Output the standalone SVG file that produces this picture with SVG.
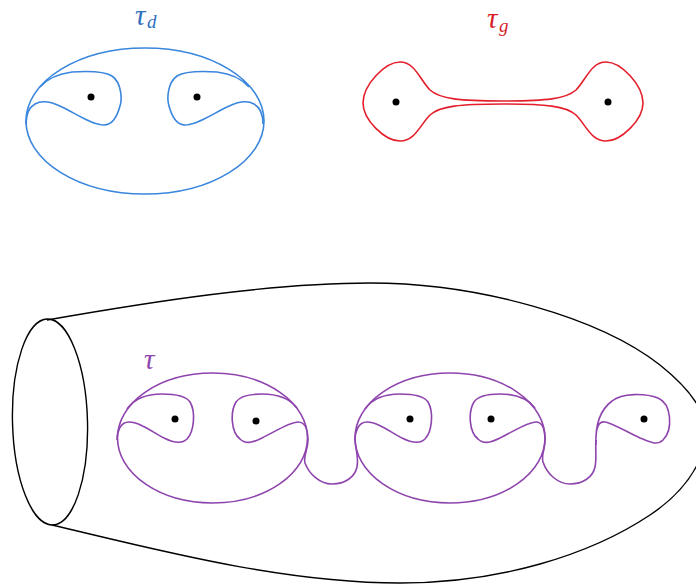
<svg xmlns="http://www.w3.org/2000/svg" width="696" height="586" viewBox="0 0 696 586">
<style>
.b{fill:none;stroke:#3a86dd;stroke-width:1.6}
.r{fill:none;stroke:#e41f2b;stroke-width:1.6}
.p{fill:none;stroke:#8e44ad;stroke-width:1.6}
.k{fill:none;stroke:#000;stroke-width:1.4}
.dot{fill:#000}
.lbl{font-family:"Liberation Serif","DejaVu Serif",serif;font-style:italic}
</style>
<rect width="696" height="586" fill="#fff"/>
<g id="tau_d">
<ellipse class="b" cx="145" cy="121" rx="119" ry="73"/>
<path class="b" d="M 40,87 C 47,79 56,74 72,72 C 88,71 104,71 112,76 C 122,83 122,100 120,106 C 117,117 112,125 104,125 C 92,125 75,113 62,107 C 52,102 42,100 35,104 C 28,108 26,116 26,124"/>
<path class="b" d="M 249,87 C 242,79 233,74 217,72 C 201,71 185,71 177,76 C 167,83 167,100 169,106 C 172,117 177,125 185,125 C 197,125 214,113 227,107 C 237,102 247,100 254,104 C 261,108 263,116 263,124"/>
<circle class="dot" cx="91" cy="97" r="3.5"/>
<circle class="dot" cx="197" cy="97" r="3.5"/>
<text class="lbl" x="135" y="25" font-size="29" fill="#2f6fbe">τ</text>
<text class="lbl" x="147" y="28" font-size="19" fill="#2f6fbe">d</text>
</g>
<g id="tau_g">
<path class="r" d="M 503,101 C 460,101 440,99 430,90 C 420,80 415,62 400,62 C 385,62 363,85 363,103 C 363,120 385,141 400,141 C 415,141 420,125 430,115 C 440,106 460,104 503,104 C 546,104 566,106 576,115 C 586,125 591,141 606,141 C 621,141 643,120 643,103 C 643,85 621,62 606,62 C 591,62 586,80 576,90 C 566,99 546,101 503,101 Z"/>
<circle class="dot" cx="396" cy="102" r="3.5"/>
<circle class="dot" cx="608" cy="102" r="3.5"/>
<text class="lbl" x="487" y="28" font-size="29" fill="#d61e2a">τ</text>
<text class="lbl" x="499" y="32" font-size="19" fill="#d61e2a">g</text>
</g>
<g id="surface">
<ellipse class="k" cx="50" cy="422" rx="37.5" ry="103" transform="rotate(-1.5 50 422)"/>
<path class="k" d="M 47,320 C 150,302 270,283 370,283 C 480,283 600,318 660,365 C 695,393 712,420 705,445 C 698,470 680,495 650,515 C 590,555 500,583 400,583 C 280,583 150,548 52,525"/>
</g>
<g id="tau">
<ellipse class="p" cx="212.5" cy="438" rx="95" ry="65"/>
<ellipse class="p" cx="450" cy="438" rx="95" ry="65"/>
<path class="p" d="M 127,409 C 134,399 146,394 162,394 C 176,394 186,396 190,402 C 196,412 194,432 187,439 C 181,445 172,442 164,438 C 151,431 139,422 129,422 C 120,422 117,432 117,440"/>
<path class="p" d="M 297,408 C 290,399 278,394 262,394 C 250,394 240,396 236,402 C 230,412 231,432 240,439 C 246,445 254,442 262,438 C 276,431 290,422 298,422 C 306,422 308,432 308,440"/>
<path class="p" d="M 365,409 C 372,399 384,394 400,394 C 414,394 424,396 428,402 C 434,412 432,432 425,439 C 419,445 410,442 402,438 C 389,431 377,422 367,422 C 358,422 355,432 355,440"/>
<path class="p" d="M 535,408 C 528,399 516,394 500,394 C 488,394 478,396 474,402 C 468,412 469,432 478,439 C 484,445 492,442 500,438 C 514,431 528,422 536,422 C 544,422 545,432 545,440"/>
<path class="p" d="M 308,440 C 308,450 303,456 305,463 C 309,474 320,484 332,484 C 345,484 355,477 357,467 C 359,457 355,448 355,438"/>
<path class="p" d="M 545,440 C 545,450 541,455 543,462 C 547,474 558,484 570,484 C 583,484 593,477 595,467 C 597,457 595,450 596,440"/>
<path class="p" d="M 596,445 C 595,425 600,410 612,401 C 622,393 645,393 658,398 C 672,404 673,430 663,440 C 657,446 650,442 640,438 C 625,431 612,423 605,422 C 599,421 596,428 596,436"/>
<circle class="dot" cx="175" cy="419" r="3.5"/>
<circle class="dot" cx="256" cy="421" r="3.5"/>
<circle class="dot" cx="410" cy="419" r="3.5"/>
<circle class="dot" cx="491" cy="419" r="3.5"/>
<circle class="dot" cx="644" cy="419" r="3.5"/>
<text class="lbl" x="144" y="369" font-size="29" fill="#8e44ad">τ</text>
</g>
</svg>
